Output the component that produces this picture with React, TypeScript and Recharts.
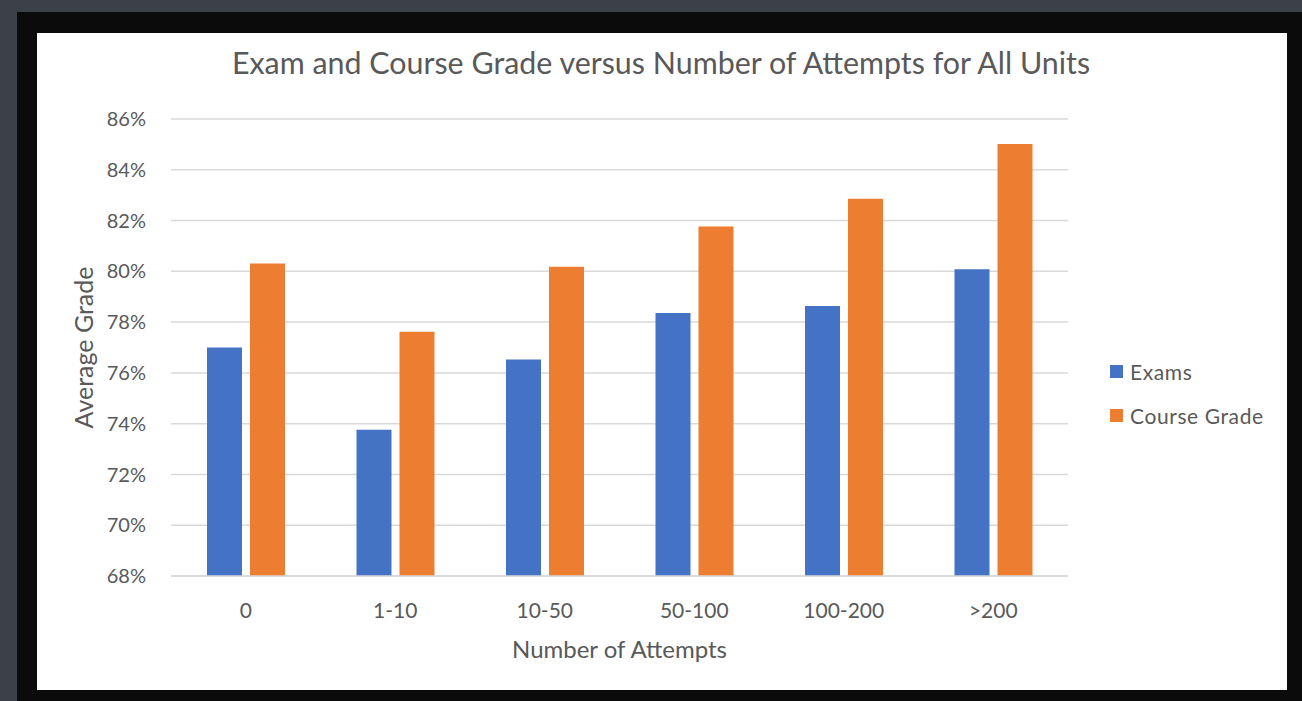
import { Bar, BarChart, CartesianGrid, Legend, XAxis, YAxis } from "recharts";

const attempts = ["0", "1-10", "10-50", "50-100", "100-200", ">200"];
const exams = [77.0, 73.76, 76.53, 78.36, 78.63, 80.08];
const courseGrade = [80.31, 77.62, 80.18, 81.77, 82.86, 85.02];
const gradeTicks = [68, 70, 72, 74, 76, 78, 80, 82, 84, 86];

const BLUE = "#4472C4";
const ORANGE = "#ED7D31";
const TEXT = "#595959";
const FONT = "Lato, 'Open Sans', sans-serif";

const data = attempts.map((name, i) => ({
  name,
  exams: exams[i],
  course: courseGrade[i],
}));

const LegendBox = () => {
  const items = [
    { label: "Exams", color: BLUE },
    { label: "Course Grade", color: ORANGE },
  ];
  return (
    <div
      style={{
        fontFamily: FONT,
        fontSize: 21,
        letterSpacing: 0.6,
        color: TEXT,
        whiteSpace: "nowrap",
      }}
    >
      {items.map((item) => (
        <div
          key={item.label}
          style={{ display: "flex", alignItems: "center", height: 22, marginBottom: 22 }}
        >
          <span
            style={{
              display: "inline-block",
              flex: "0 0 13px",
              width: 13,
              height: 13,
              background: item.color,
              marginRight: 7,
            }}
          />
          <span>{item.label}</span>
        </div>
      ))}
    </div>
  );
};

export default function App() {
  return (
    <div
      style={{
        position: "fixed",
        left: 0,
        top: 0,
        width: 1302,
        height: 701,
        background: "#3c4049",
        overflow: "hidden",
      }}
    >
      {/* rough black frame + white card */}
      <div
        style={{
          position: "absolute",
          left: 17,
          top: 12,
          width: 1285,
          height: 689,
          background: "#0b0b0b",
        }}
      />
      <div
        style={{
          position: "absolute",
          left: 37,
          top: 33,
          width: 1250,
          height: 657,
          background: "#ffffff",
        }}
      />
      <div style={{ position: "absolute", left: 0, top: 0 }}>
        <BarChart
          width={1302}
          height={701}
          data={data}
          margin={{ top: 119, right: 234, bottom: 35, left: 100 }}
          barCategoryGap={36}
          barGap={8}
          style={{ fontFamily: FONT }}
        >
          <text
            x={661}
            y={74}
            textAnchor="middle"
            fontSize={30.4}
            fill={TEXT}
            fontFamily={FONT}
          >
            Exam and Course Grade versus Number of Attempts for All Units
          </text>
          <CartesianGrid vertical={false} stroke="#d9d9d9" strokeWidth={1.5} />
          <XAxis
            dataKey="name"
            height={90}
            tickLine={false}
            tickSize={0}
            tickMargin={27}
            axisLine={{ stroke: "#d9d9d9", strokeWidth: 1.5 }}
            tick={{ fill: TEXT, fontSize: 21, fontFamily: FONT }}
            label={{
              value: "Number of Attempts",
              position: "insideBottom",
              offset: 8,
              fill: TEXT,
              fontSize: 24,
              fontFamily: FONT,
            }}
          />
          <YAxis
            width={71}
            domain={[68, 86]}
            ticks={gradeTicks}
            allowDataOverflow
            axisLine={false}
            tickLine={false}
            tickSize={0}
            tickMargin={25}
            tickFormatter={(v: number) => `${v}%`}
            tick={{ fill: TEXT, fontSize: 20, fontFamily: FONT }}
            label={{
              value: "Average Grade",
              angle: -90,
              position: "left",
              offset: 16,
              fill: TEXT,
              fontSize: 25,
              fontFamily: FONT,
              style: { textAnchor: "middle" },
            }}
          />
          <Legend
            layout="vertical"
            align="center"
            verticalAlign="middle"
            content={<LegendBox />}
            wrapperStyle={{ left: 1110, top: 360, width: 185, height: 90 }}
          />
          <Bar dataKey="exams" name="Exams" fill={BLUE} isAnimationActive={false} />
          <Bar dataKey="course" name="Course Grade" fill={ORANGE} isAnimationActive={false} />
        </BarChart>
      </div>
    </div>
  );
}
